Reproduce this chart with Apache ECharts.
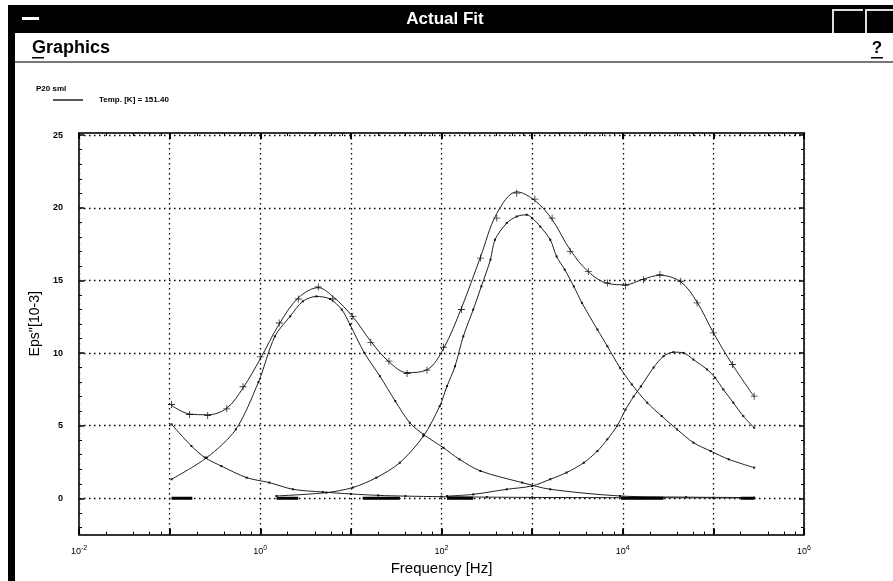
<!DOCTYPE html>
<html><head><meta charset="utf-8">
<script src="https://cdn.jsdelivr.net/npm/echarts@6/dist/echarts.min.js"></script>
<style>html,body{margin:0;padding:0;background:#fff}#c{width:893px;height:581px}</style>
</head><body><div id="c"></div>
<script>
// ---- data ----
const measFreq = [0.105, 0.166, 0.263, 0.427, 0.646, 1.0, 1.62, 2.63, 4.37, 6.31, 10.5, 16.6, 26.3, 41.7, 69.2, 105, 166, 269, 407, 676, 1072, 1660, 2630, 4169, 6761, 10715, 16982, 25704, 43652, 66069, 100000, 162181, 281838];
const measVals = [6.46, 5.77, 5.70, 6.16, 7.68, 9.74, 12.07, 13.72, 14.55, 13.72, 12.53, 10.74, 9.44, 8.59, 8.82, 10.4, 13.0, 16.54, 19.29, 21.01, 20.6, 19.29, 17.0, 15.62, 14.82, 14.64, 15.05, 15.4, 14.94, 13.45, 11.39, 9.21, 7.03];
const fitVals  = [6.4, 5.8, 5.75, 6.2, 7.6, 9.6, 12.0, 13.8, 14.5, 13.9, 12.5, 10.8, 9.4, 8.65, 8.85, 10.3, 13.1, 16.6, 19.6, 21.1, 20.5, 19.2, 17.1, 15.6, 14.8, 14.7, 15.1, 15.35, 14.9, 13.5, 11.4, 9.2, 7.0];

const tailFreq = [0.105, 0.174, 0.245, 0.372, 0.708, 1.26, 2.29, 4.9, 10, 20, 40, 100, 316, 1000, 10000, 100000, 281838];
const tailVals = [5.09, 3.6, 2.8, 2.22, 1.42, 1.08, 0.62, 0.43, 0.3, 0.2, 0.15, 0.11, 0.08, 0.06, 0.04, 0.03, 0.02];

const p1Freq = [0.105, 0.257, 0.537, 0.955, 1.45, 2.14, 2.95, 4.17, 5.89, 7.94, 9.77, 14.1, 20.9, 30.9, 44.7, 63.1, 105, 158, 269, 776, 1585, 9333, 50000, 281838];
const p1Vals = [1.31, 2.8, 4.74, 8.0, 11.15, 12.53, 13.56, 13.9, 13.72, 12.99, 11.96, 10.01, 8.41, 6.69, 5.2, 4.4, 3.48, 2.68, 1.88, 1.08, 0.62, 0.16, 0.08, 0.05];

const p2Freq = [1.51, 5.37, 10.5, 19.1, 34.7, 63.1, 95.5, 115, 141, 174, 224, 275, 347, 389, 525, 676, 871, 1000, 1230, 1585, 1862, 2291, 2884, 3548, 5248, 6761, 9333, 12589, 18621, 26915, 39811, 60256, 93325, 147911, 281838];
const p2Vals = [0.16, 0.39, 0.74, 1.42, 2.45, 4.28, 6.34, 7.72, 9.09, 11.15, 12.99, 14.59, 16.43, 17.8, 18.95, 19.4, 19.52, 19.29, 18.71, 17.8, 16.65, 15.74, 14.59, 13.45, 11.62, 10.47, 8.98, 7.84, 6.58, 5.66, 4.74, 3.83, 3.25, 2.68, 2.11];

const p3Freq = [115, 224, 525, 1000, 1585, 2399, 3715, 5248, 6761, 8710, 10715, 13183, 15849, 21878, 28184, 36308, 46774, 60256, 85114, 104713, 128825, 165959, 213796, 281838];
const p3Vals = [0.15, 0.27, 0.62, 0.85, 1.31, 1.77, 2.45, 3.25, 4.06, 5.0, 6.1, 7.0, 7.7, 9.0, 9.78, 10.06, 10.01, 9.55, 8.87, 8.3, 7.49, 6.58, 5.66, 4.86];

// near-zero heavy segments along the baseline
const baseStart = [0.105, 1.51, 13.5, 115, 9550, 200000];
const baseEnd   = [0.178, 2.63, 34.7, 224, 28200, 281838];

const yLabelValues = [0, 5, 10, 15, 20, 25];
const yMinorValues = [-2, -1, 1, 2, 3, 4, 6, 7, 8, 9, 11, 12, 13, 14, 16, 17, 18, 19, 21, 22, 23, 24];
const xMinorMult = [2, 4, 6, 8];
const xDecades = [-2, -1, 0, 1, 2, 3, 4, 5];

const legendName = 'Temp. [K] = 151.40';
const sampleName = 'P20 sml';

// ---- build ----
const pairs = (f, v) => f.map((x, i) => [x, v[i]]);
const baseData = [];
baseStart.forEach((s, i) => { baseData.push([s, 0], [baseEnd[i], 0], [baseEnd[i], '-']); });
const xMinorPos = [];
xDecades.forEach(d => xMinorMult.forEach(m => xMinorPos.push(d + Math.log10(m))));

const FONT = '"Liberation Sans", Arial, sans-serif';
const dotted = { color: '#000', width: 1.3, type: [1.5, 3.5] };
const frameLine = { show: true, onZero: false, lineStyle: { color: '#333', width: 2 } };
const noLine = { show: false, onZero: false };

const plusSym = 'path://M4.4,0h1.2v10h-1.2z M0,4.4h10v1.2h-10z';
const comp = (name, data) => ({
  name, type: 'line', data, smooth: 0.3, symbol: 'rect', symbolSize: 2, showSymbol: true,
  itemStyle: { color: '#111' }, lineStyle: { color: '#222', width: 1 }, z: 3
});

const chart = echarts.init(document.getElementById('c'), null, { renderer: 'canvas' });
chart.setOption({
  animation: false,
  backgroundColor: '#fff',
  textStyle: { fontFamily: FONT },
  title: { text: sampleName, left: 31, top: 80, textStyle: { fontSize: 8, fontWeight: 'bold', color: '#000', fontFamily: FONT } },
  legend: {
    data: [legendName], left: 48, top: 91, itemWidth: 30, itemHeight: 1.5, icon: 'rect',
    textStyle: { fontSize: 8, fontWeight: 'bold', color: '#000', padding: [0, 0, 0, 11] }
  },
  grid: { left: 79, right: 89, top: 133, bottom: 45, containLabel: false },
  xAxis: [
    {
      type: 'log', logBase: 10, min: 0.01, max: 1e6, splitNumber: 8, position: 'bottom',
      axisLine: frameLine,
      axisTick: { show: true, inside: true, length: 6, lineStyle: { color: '#000', width: 2 } },
      axisLabel: {
        margin: 10, color: '#000',
        formatter: v => { const e = Math.round(Math.log10(v)); return (e % 2 === 0) ? '{a|10}{b|' + e + '}' : ''; },
        rich: { a: { fontSize: 9, color: '#000' }, b: { fontSize: 7, color: '#000', padding: [0, 0, 7, 0] } }
      },
      splitLine: { show: true, lineStyle: dotted },
      name: 'Frequency [Hz]', nameLocation: 'middle', nameGap: 26,
      nameTextStyle: { fontSize: 15, color: '#000', fontFamily: FONT }
    },
    {
      type: 'log', logBase: 10, min: 0.01, max: 1e6, splitNumber: 8, position: 'top',
      axisLine: frameLine,
      axisTick: { show: true, inside: true, length: 6, lineStyle: { color: '#000', width: 2 } },
      axisLabel: { show: false }, splitLine: { show: false }
    },
    {
      type: 'value', min: -2, max: 6, position: 'bottom',
      axisLine: noLine, axisLabel: { show: false }, splitLine: { show: false },
      axisTick: { show: true, inside: true, length: 3, customValues: xMinorPos, lineStyle: { color: '#000', width: 1 } }
    },
    {
      type: 'value', min: -2, max: 6, position: 'top',
      axisLine: noLine, axisLabel: { show: false }, splitLine: { show: false },
      axisTick: { show: true, inside: true, length: 3, customValues: xMinorPos, lineStyle: { color: '#000', width: 1 } }
    }
  ],
  yAxis: [
    {
      type: 'value', min: -2.5, max: 25.15, position: 'left',
      axisLine: frameLine,
      axisTick: { show: true, inside: true, length: 5, customValues: yLabelValues, lineStyle: { color: '#000', width: 1.5 } },
      axisLabel: { customValues: yLabelValues, fontSize: 9, fontWeight: 'bold', color: '#000', margin: 16 },
      splitLine: { show: true, lineStyle: dotted },
      name: "Eps''[10-3]", nameLocation: 'middle', nameGap: 28, nameRotate: 90,
      nameTextStyle: { fontSize: 14, color: '#000', fontFamily: FONT, padding: [0, 0, 0, 20] }
    },
    {
      type: 'value', min: -2.5, max: 25.15, position: 'right',
      axisLine: frameLine,
      axisTick: { show: true, inside: true, length: 5, customValues: yLabelValues, lineStyle: { color: '#000', width: 1.5 } },
      axisLabel: { show: false }, splitLine: { show: false }
    },
    {
      type: 'value', min: -2.5, max: 25.15, position: 'left',
      axisLine: noLine, axisLabel: { show: false }, splitLine: { show: false },
      axisTick: { show: true, inside: true, length: 3, customValues: yMinorValues, lineStyle: { color: '#000', width: 1 } }
    },
    {
      type: 'value', min: -2.5, max: 25.15, position: 'right',
      axisLine: noLine, axisLabel: { show: false }, splitLine: { show: false },
      axisTick: { show: true, inside: true, length: 3, customValues: yMinorValues, lineStyle: { color: '#000', width: 1 } }
    }
  ],
  series: [
    comp('tail', pairs(tailFreq, tailVals)),
    comp('peak 1', pairs(p1Freq, p1Vals)),
    comp('peak 2', pairs(p2Freq, p2Vals)),
    comp('peak 3', pairs(p3Freq, p3Vals)),
    { name: 'base', type: 'line', data: baseData, symbol: 'none', connectNulls: false,
      lineStyle: { color: '#000', width: 3 }, z: 4 },
    { name: legendName, type: 'line', data: pairs(measFreq, fitVals), smooth: 0.35, symbol: 'none',
      itemStyle: { color: '#222' }, lineStyle: { color: '#222', width: 1 }, z: 5 },
    { name: 'measured', type: 'scatter', data: pairs(measFreq, measVals), symbol: plusSym, symbolSize: 7,
      itemStyle: { color: '#000' }, z: 6 }
  ],
  graphic: [
    { type: 'rect', shape: { x: 8, y: 5, width: 885, height: 28 }, style: { fill: '#000' }, silent: true },
    { type: 'rect', shape: { x: 8, y: 5, width: 7, height: 576 }, style: { fill: '#000' }, silent: true },
    { type: 'rect', shape: { x: 22, y: 17, width: 17, height: 3 }, style: { fill: '#fff' }, silent: true },
    { type: 'text', x: 445, y: 19, style: { text: 'Actual Fit', fill: '#fff', font: 'bold 17px ' + FONT, align: 'center', verticalAlign: 'middle' }, silent: true },
    { type: 'polyline', shape: { points: [[833, 33], [833, 10], [863, 10]] }, style: { stroke: '#ddd', lineWidth: 2, fill: null }, silent: true },
    { type: 'polyline', shape: { points: [[866, 33], [866, 10], [893, 10]] }, style: { stroke: '#ddd', lineWidth: 2, fill: null }, silent: true },
    { type: 'text', x: 32, y: 48, style: { text: 'Graphics', fill: '#000', font: 'bold 18px ' + FONT, verticalAlign: 'middle' }, silent: true },
    { type: 'rect', shape: { x: 32, y: 57, width: 12, height: 1.5 }, style: { fill: '#000' }, silent: true },
    { type: 'text', x: 877, y: 48, style: { text: '?', fill: '#000', font: 'bold 17px ' + FONT, align: 'center', verticalAlign: 'middle' }, silent: true },
    { type: 'rect', shape: { x: 871, y: 57, width: 12, height: 1.5 }, style: { fill: '#000' }, silent: true },
    { type: 'rect', shape: { x: 15, y: 61, width: 878, height: 2 }, style: { fill: '#777' }, silent: true }
  ]
});
</script></body></html>
